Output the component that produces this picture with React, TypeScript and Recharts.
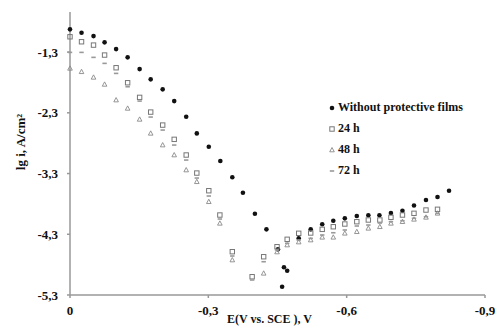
import { ScatterChart, Scatter, XAxis, YAxis, Legend, Label } from "recharts";

// potentials (V vs SCE) and lg i values
const withoutE = [0, -0.025, -0.051, -0.075, -0.1, -0.125, -0.151, -0.175, -0.201, -0.226, -0.252, -0.275, -0.301, -0.326, -0.352, -0.375, -0.401, -0.426, -0.451, -0.464, -0.471, -0.46, -0.496, -0.522, -0.547, -0.571, -0.596, -0.622, -0.647, -0.671, -0.696, -0.721, -0.746, -0.772, -0.797, -0.822];
const withoutLgI = [-0.926, -0.982, -1.037, -1.14, -1.251, -1.387, -1.58, -1.749, -1.914, -2.107, -2.365, -2.639, -2.859, -3.094, -3.362, -3.616, -3.962, -4.219, -4.548, -4.844, -4.9, -5.163, -4.367, -4.219, -4.136, -4.077, -4.038, -4.0, -3.988, -3.988, -3.95, -3.912, -3.827, -3.736, -3.687, -3.583];

const h24E = [0, -0.025, -0.051, -0.075, -0.1, -0.125, -0.151, -0.175, -0.201, -0.226, -0.252, -0.275, -0.301, -0.325, -0.352, -0.395, -0.42, -0.449, -0.471, -0.496, -0.522, -0.547, -0.571, -0.596, -0.622, -0.647, -0.672, -0.696, -0.721, -0.746, -0.772, -0.797];
const h24LgI = [-1.048, -1.13, -1.185, -1.349, -1.558, -1.805, -2.046, -2.288, -2.502, -2.737, -2.995, -3.292, -3.583, -3.983, -4.587, -4.999, -4.67, -4.505, -4.383, -4.284, -4.279, -4.219, -4.176, -4.131, -4.093, -4.065, -4.065, -4.021, -3.983, -3.955, -3.901, -3.889];

const h48E = [0, -0.025, -0.051, -0.075, -0.1, -0.125, -0.151, -0.175, -0.201, -0.226, -0.252, -0.275, -0.301, -0.325, -0.352, -0.42, -0.449, -0.471, -0.496, -0.522, -0.547, -0.571, -0.596, -0.622, -0.647, -0.672, -0.696, -0.721, -0.746, -0.772, -0.797];
const h48LgI = [-1.568, -1.624, -1.716, -1.832, -2.09, -2.227, -2.408, -2.638, -2.831, -2.995, -3.242, -3.435, -3.764, -4.12, -4.724, -4.943, -4.592, -4.477, -4.428, -4.395, -4.35, -4.35, -4.284, -4.258, -4.202, -4.176, -4.12, -4.093, -4.054, -4.021, -3.955];

const h72E = [0, -0.025, -0.051, -0.075, -0.1, -0.125, -0.151, -0.175, -0.201, -0.226, -0.252, -0.275, -0.301, -0.325, -0.352, -0.395, -0.42, -0.449, -0.471, -0.496, -0.522, -0.547, -0.571, -0.596, -0.622, -0.647, -0.672, -0.696, -0.721, -0.746, -0.772, -0.797];
const h72LgI = [-1.305, -1.305, -1.387, -1.486, -1.651, -1.871, -2.107, -2.37, -2.584, -2.831, -3.078, -3.374, -3.67, -4.049, -4.658, -5.053, -4.752, -4.559, -4.449, -4.395, -4.367, -4.312, -4.275, -4.23, -4.164, -4.148, -4.115, -4.093, -4.077, -4.037, -4.011, -3.955];

const xTicks = [0, -0.3, -0.6, -0.9];
const yTicks = [-5.3, -4.3, -3.3, -2.3, -1.3];

const FONT = '"Liberation Serif", "Times New Roman", serif';

const zip = (xs: number[], ys: number[]) => xs.map((x, i) => ({ x, y: ys[i] }));
const fmt = (v: number) => (v === 0 ? "0" : v.toFixed(1).replace(".", ","));

// marker shapes
const Dot = ({ cx, cy }: any) => <circle cx={cx} cy={cy} r={2.3} fill="#111" />;
const Square = ({ cx, cy }: any) => (
  <rect x={cx - 2.2} y={cy - 2.2} width={4.4} height={4.4} fill="none" stroke="#777" strokeWidth={1} />
);
const Tri = ({ cx, cy }: any) => (
  <path d={`M${cx},${cy - 2.5}L${cx + 2.3},${cy + 1.8}L${cx - 2.3},${cy + 1.8}Z`} fill="none" stroke="#8a8a8a" strokeWidth={0.9} />
);
const Dash = ({ cx, cy }: any) => (
  <line x1={cx - 2.2} y1={cy} x2={cx + 2.2} y2={cy} stroke="#999" strokeWidth={1.6} />
);

const series = [
  { name: "Without protective films", data: zip(withoutE, withoutLgI), shape: Dot },
  { name: "24 h", data: zip(h24E, h24LgI), shape: Square },
  { name: "48 h", data: zip(h48E, h48LgI), shape: Tri },
  { name: "72 h", data: zip(h72E, h72LgI), shape: Dash },
];

const LegendBox = () => (
  <div style={{ fontFamily: FONT, fontWeight: "bold", fontSize: 12, color: "#111" }}>
    {series.map((s) => {
      const Shape = s.shape;
      return (
        <div key={s.name} style={{ display: "flex", alignItems: "center", height: 21 }}>
          <svg width={8} height={10} style={{ marginRight: 2 }}>
            <Shape cx={4} cy={5} />
          </svg>
          <span>{s.name}</span>
        </div>
      );
    })}
  </div>
);

export default function App() {
  return (
    <div style={{ position: "absolute", left: 0, top: 0, width: 496, height: 326, background: "#fff" }}>
      <ScatterChart width={496} height={326} margin={{ top: 12, right: 11, bottom: 6, left: 30 }}>
        <XAxis
          type="number"
          dataKey="x"
          domain={[-0.9, 0]}
          reversed
          ticks={xTicks}
          tickFormatter={fmt}
          height={25}
          stroke="#999"
          strokeWidth={1.5}
          tickSize={3}
          tickMargin={8}
          tick={{ fontFamily: FONT, fontWeight: "bold", fontSize: 13, fill: "#111" }}
        >
          <Label
            value="E(V vs. SCE ), V"
            position="insideBottom"
            offset={-3}
            dx={-8}
            style={{ fontFamily: FONT, fontWeight: "bold", fontSize: 12, fill: "#111" }}
          />
        </XAxis>
        <YAxis
          type="number"
          dataKey="y"
          domain={[-5.3, -0.64]}
          ticks={yTicks}
          tickFormatter={fmt}
          width={40}
          stroke="#999"
          strokeWidth={1.5}
          tickSize={3}
          tickMargin={9}
          tick={{ fontFamily: FONT, fontWeight: "bold", fontSize: 13, fill: "#111" }}
        >
          <Label
            content={() => (
              <text
                transform="translate(22,142) rotate(-90)"
                textAnchor="middle"
                dominantBaseline="middle"
                style={{ fontFamily: FONT, fontWeight: "bold", fontSize: 13, fill: "#111" }}
              >
                lg i, A/cm²
              </text>
            )}
          />
        </YAxis>
        <Legend
          layout="vertical"
          verticalAlign="middle"
          align="center"
          wrapperStyle={{ left: 328, top: 97, width: 160 }}
          content={() => <LegendBox />}
        />
        {series.map((s) => (
          <Scatter key={s.name} name={s.name} data={s.data} shape={s.shape} isAnimationActive={false} />
        ))}
      </ScatterChart>
    </div>
  );
}
